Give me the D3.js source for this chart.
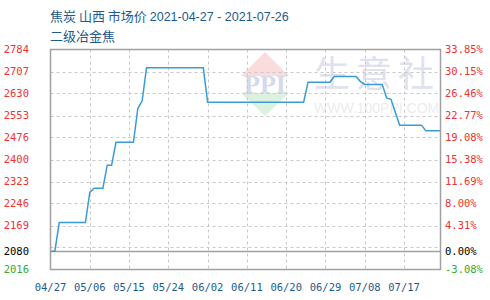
<!DOCTYPE html>
<html>

<head>
  <meta charset="utf-8">
  <title>焦炭 山西 市场价</title>
  <script type="text/javascript" src="https://cdn.jsdelivr.net/npm/d3@7"></script>
  <style type="text/css">
    body { margin: 0; background: #fff; }
    text { font-family: "DejaVu Sans Mono", monospace; }
  </style>
</head>

<body>
  <script type="text/javascript">

    // price points (where the price changes), yuan/ton
    const dates = ["2021-04-27", "2021-04-28", "2021-04-29", "2021-05-05", "2021-05-06", "2021-05-07",
      "2021-05-09", "2021-05-10", "2021-05-11", "2021-05-12", "2021-05-16", "2021-05-17", "2021-05-18",
      "2021-05-19", "2021-06-01", "2021-06-02", "2021-06-24", "2021-06-25", "2021-06-30", "2021-07-01",
      "2021-07-06", "2021-07-07", "2021-07-08", "2021-07-12", "2021-07-13", "2021-07-14", "2021-07-16",
      "2021-07-21", "2021-07-22", "2021-07-26"];
    const prices = [2080, 2080, 2180, 2180, 2285, 2300,
      2300, 2380, 2380, 2460, 2460, 2578, 2605,
      2720, 2720, 2600, 2600, 2670, 2670, 2690,
      2690, 2672, 2662, 2662, 2615, 2610, 2520,
      2520, 2500, 2500];

    const xTickLabels = ["04/27", "05/06", "05/15", "05/24", "06/02", "06/11", "06/20", "06/29", "07/08", "07/17"];
    const yTicks = [2784, 2707.2, 2630.4, 2553.6, 2476.8, 2400, 2323.2, 2246.4, 2169.6, 2092.8, 2016];
    const basePrice = 2080;

    const titleName = "焦炭 山西 市场价 ";
    const titleRange = "2021-04-27 - 2021-07-26";
    const subtitle = "二级冶金焦";

    // Width and height
    const w = 490;
    const h = 300;
    const pLeft = 50.5, pRight = 440.5, pTop = 49.5, pBottom = 269.5;

    const parse = d3.timeParse("%Y-%m-%d");
    const start = parse(dates[0]);
    const data = dates.map((d, i) => ({ date: parse(d), value: prices[i] }));

    const x = d3.scaleTime()
      .domain([start, d3.timeDay.offset(start, 90)])
      .range([pLeft, pLeft + 90 * 4.365]);
    const y = d3.scaleLinear()
      .domain([2016, 2784])
      .range([pBottom, pTop]);

    const svg = d3.select("body")
      .append("svg")
      .attr("width", w)
      .attr("height", h);

    // titles
    const t = svg.append("text")
      .attr("x", 50).attr("y", 21)
      .attr("fill", "#1d5b8e")
      .style("font-family", "'Noto Sans CJK SC', sans-serif")
      .style("font-size", "13px");
    t.append("tspan").text(titleName);
    t.append("tspan")
      .style("font-family", "'Liberation Sans', sans-serif")
      .style("font-size", "12.5px")
      .text(titleRange);
    svg.append("text")
      .attr("x", 50).attr("y", 41)
      .attr("fill", "#1d5b8e")
      .style("font-family", "'Noto Sans CJK SC', sans-serif")
      .style("font-size", "13px")
      .text(subtitle);

    // watermark
    const wm = svg.append("g");
    wm.append("path")
      .attr("d", "M265,52 L289,76 L241,76 Z")
      .attr("fill", "#fbdcdc");
    wm.append("path")
      .attr("d", "M265,116 L289,93 L241,93 Z")
      .attr("fill", "#dcf2df");
    wm.append("text")
      .attr("x", 265).attr("y", 93)
      .attr("text-anchor", "middle")
      .attr("fill", "#d3daea")
      .style("font-family", "'Liberation Serif', serif")
      .style("font-size", "26px")
      .style("font-weight", "bold")
      .text("PPI");
    wm.append("text")
      .attr("x", 314).attr("y", 87)
      .attr("fill", "#dfe2ee")
      .style("font-family", "'Noto Sans CJK SC', sans-serif")
      .style("font-size", "36px")
      .style("letter-spacing", "6px")
      .text("生意社");
    wm.append("text")
      .attr("x", 314).attr("y", 113)
      .attr("fill", "#ececec")
      .style("font-family", "'Liberation Sans', sans-serif")
      .style("font-size", "14px")
      .text("WWW.100PPI.COM");

    // horizontal grid
    svg.selectAll("line.hgrid")
      .data(yTicks.slice(1, -1))
      .enter()
      .append("line")
      .attr("x1", pLeft).attr("x2", pRight)
      .attr("y1", d => Math.round(y(d)) + 0.5)
      .attr("y2", d => Math.round(y(d)) + 0.5)
      .attr("stroke", "#c8c8c8")
      .attr("stroke-dasharray", "3,3");

    // vertical grid
    svg.selectAll("line.vgrid")
      .data(xTickLabels.slice(1))
      .enter()
      .append("line")
      .attr("x1", (d, i) => Math.round(x(d3.timeDay.offset(start, (i + 1) * 9))) + 0.5)
      .attr("x2", (d, i) => Math.round(x(d3.timeDay.offset(start, (i + 1) * 9))) + 0.5)
      .attr("y1", pTop).attr("y2", pBottom)
      .attr("stroke", "#c8c8c8")
      .attr("stroke-dasharray", "3,3");

    // base price line
    svg.append("line")
      .attr("x1", pLeft).attr("x2", pRight)
      .attr("y1", Math.round(y(basePrice)) + 0.5)
      .attr("y2", Math.round(y(basePrice)) + 0.5)
      .attr("stroke", "#a0a0a0")
      .attr("stroke-width", 1.5);

    // price line
    svg.append("clipPath").attr("id", "clip")
      .append("rect")
      .attr("x", pLeft).attr("y", pTop)
      .attr("width", pRight - pLeft).attr("height", pBottom - pTop);

    const line = d3.line()
      .x(d => x(d.date))
      .y(d => y(d.value));

    svg.append("path")
      .datum(data)
      .attr("clip-path", "url(#clip)")
      .attr("d", line)
      .attr("fill", "none")
      .attr("stroke", "#3b9bd9")
      .attr("stroke-width", 1.5);

    // plot border
    svg.append("rect")
      .attr("x", pLeft).attr("y", pTop)
      .attr("width", pRight - pLeft).attr("height", pBottom - pTop)
      .attr("fill", "none")
      .attr("stroke", "#a0a0a0")
      .attr("stroke-width", 1.5);

    // left axis labels
    const labelColor = v => v > basePrice ? "#ee3333" : (v < basePrice ? "#33aa33" : "#000");
    const leftVals = yTicks.slice(0, -2).concat([basePrice, yTicks[yTicks.length - 1]]);

    svg.selectAll("text.yl")
      .data(leftVals)
      .enter()
      .append("text")
      .attr("x", 29)
      .attr("y", d => y(d))
      .attr("dy", "0.35em")
      .attr("text-anchor", "end")
      .attr("fill", labelColor)
      .style("font-size", "10.5px")
      .text(d => Math.floor(d));

    // right axis labels (change vs base price)
    svg.selectAll("text.yr")
      .data(leftVals)
      .enter()
      .append("text")
      .attr("x", 445)
      .attr("y", d => y(d))
      .attr("dy", "0.35em")
      .attr("fill", labelColor)
      .style("font-size", "10.5px")
      .text(d => ((d - basePrice) / basePrice * 100).toFixed(2) + "%");

    // x axis labels
    svg.selectAll("text.xl")
      .data(xTickLabels)
      .enter()
      .append("text")
      .attr("x", (d, i) => x(d3.timeDay.offset(start, i * 9)))
      .attr("y", 291)
      .attr("text-anchor", "middle")
      .attr("fill", "#1d5b8e")
      .style("font-size", "10.5px")
      .text(d => d);

  </script>
</body>

</html>
